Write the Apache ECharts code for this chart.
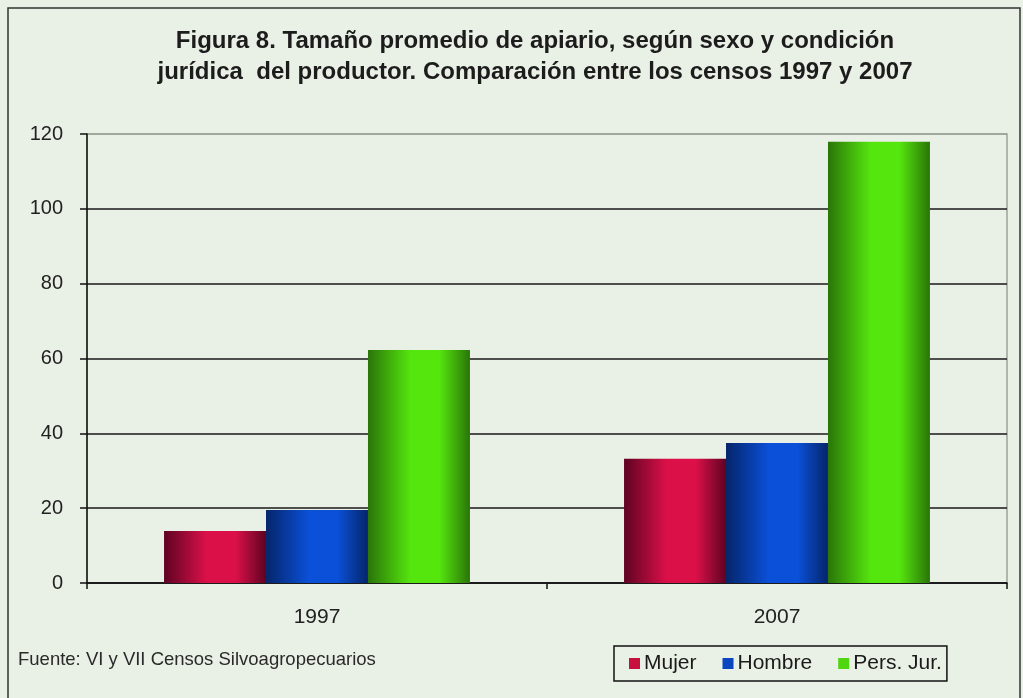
<!DOCTYPE html>
<html>
<head>
<meta charset="utf-8">
<script src="https://cdn.jsdelivr.net/npm/echarts@6/dist/echarts.min.js"></script>
<style>
  html, body { margin: 0; padding: 0; background: #e9f0e5; }
  #chart { width: 1023px; height: 698px; }
</style>
</head>
<body>
<div id="chart"></div>
<script>
// datos
const censos = ['1997', '2007']
const series = ['Mujer', 'Hombre', 'Pers. Jur.']
const mujer = [13.9, 33.2]
const hombre = [19.5, 37.4]
const persJur = [62.3, 117.9]
const yTicks = [0, 20, 40, 60, 80, 100, 120]

function grad(edge, mid) {
    return new echarts.graphic.LinearGradient(0, 0, 1, 0, [
        { offset: 0, color: edge },
        { offset: 0.42, color: mid },
        { offset: 0.7, color: mid },
        { offset: 1, color: edge },
    ])
}

const colores = [
    grad('#5e0322', '#dc1049'),
    grad('#05256a', '#0b50d8'),
    grad('#2a7508', '#55e60e'),
]
const swatch = ['#c8103f', '#0b45c0', '#4fd60e']

const chartDiv = document.getElementById('chart')
const myChart = echarts.init(chartDiv)
myChart.setOption({
    backgroundColor: '#e9f0e5',
    animation: false,
    textStyle: { fontFamily: 'Liberation Sans, Arial, sans-serif' },
    title: {
        text: 'Figura 8. Tamaño promedio de apiario, según sexo y condición\njurídica  del productor. Comparación entre los censos 1997 y 2007',
        left: 530,
        textAlign: 'center',
        top: 21,
        textStyle: { fontSize: 24, fontWeight: 'bold', color: '#1c1c1c', lineHeight: 31 },
    },
    graphic: [
        {
            type: 'rect',
            shape: { x: 8, y: 8, width: 1012, height: 700 },
            style: { fill: 'none', stroke: '#333', lineWidth: 1.5 },
            silent: true,
        },
        {
            type: 'text',
            left: 18,
            top: 650,
            style: { text: 'Fuente: VI y VII Censos Silvoagropecuarios', fill: '#2a2a2a', font: '18.5px Liberation Sans' },
        },
    ],
    legend: {
        data: series.map((s, i) => ({ name: s, itemStyle: { color: swatch[i] } })),
        left: 614,
        top: 646,
        itemWidth: 11,
        itemHeight: 11,
        itemGap: 26,
        icon: 'rect',
        borderColor: '#111',
        borderWidth: 1.5,
        padding: [7, 5, 7, 15],
        textStyle: { fontSize: 21, color: '#1a1a1a', padding: [0, 0, 0, -1] },
    },
    grid: {
        left: 87,
        right: 16,
        top: 134,
        bottom: 115,
        show: true,
        borderColor: '#9aa596',
        borderWidth: 1.5,
        backgroundColor: 'transparent',
    },
    xAxis: {
        type: 'category',
        data: censos,
        axisLine: { lineStyle: { color: '#111', width: 1.5 } },
        axisTick: { show: true, length: 6, lineStyle: { color: '#111', width: 1.5 } },
        axisLabel: { fontSize: 21, color: '#222', margin: 24 },
    },
    yAxis: {
        type: 'value',
        min: yTicks[0],
        max: yTicks[yTicks.length - 1],
        interval: 20,
        axisLine: { show: true, lineStyle: { color: '#111', width: 1.5 } },
        axisTick: { show: true, length: 7, lineStyle: { color: '#111', width: 1.5 } },
        axisLabel: { fontSize: 20, color: '#222', margin: 24 },
        splitLine: {
            lineStyle: {
                color: ['#1a1a1a', '#1a1a1a', '#1a1a1a', '#1a1a1a', '#1a1a1a', '#1a1a1a', '#9aa596'],
                width: 1.5,
            },
        },
    },
    series: [
        { name: series[0], type: 'bar', data: mujer, itemStyle: { color: colores[0] }, barGap: '0%', barCategoryGap: '33.5%' },
        { name: series[1], type: 'bar', data: hombre, itemStyle: { color: colores[1] } },
        { name: series[2], type: 'bar', data: persJur, itemStyle: { color: colores[2] } },
    ],
})
</script>
</body>
</html>
